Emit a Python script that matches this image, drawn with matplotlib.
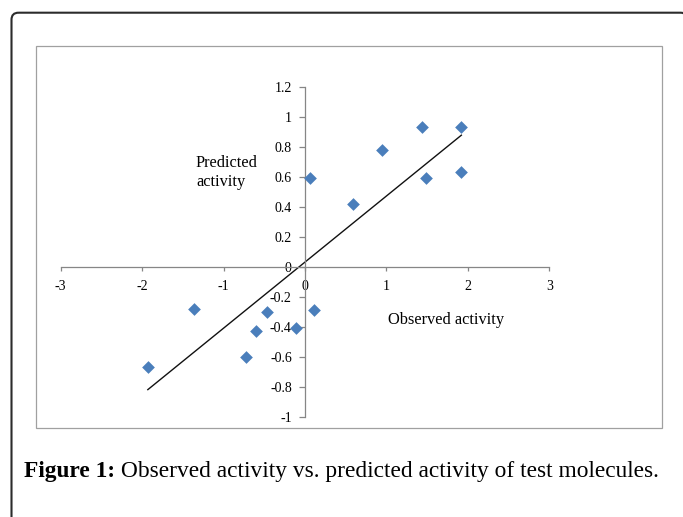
import matplotlib
matplotlib.use("Agg")
import matplotlib.pyplot as plt
from matplotlib.patches import FancyBboxPatch, Rectangle
import numpy as np

# observed vs predicted activity
observed = [0.06, 0.59, 0.95, 1.44, 1.49, 1.92, 1.92,
            -1.93, -1.36, -0.73, -0.60, -0.47, -0.11, 0.11]
predicted = [0.59, 0.42, 0.78, 0.93, 0.59, 0.93, 0.63,
             -0.67, -0.28, -0.60, -0.43, -0.30, -0.41, -0.29]
x_ticks = [-3, -2, -1, 0, 1, 2, 3]
y_ticks = [-1, -0.8, -0.6, -0.4, -0.2, 0, 0.2, 0.4, 0.6, 0.8, 1, 1.2]
y_labels = ['-1', '-0.8', '-0.6', '-0.4', '-0.2', '0', '0.2', '0.4', '0.6', '0.8', '1', '1.2']

plt.rcParams['font.family'] = ['Liberation Serif', 'DejaVu Serif']

W, H = 683, 517
fig = plt.figure(figsize=(W / 100, H / 100), dpi=100)

# background layer in pixel coordinates
bg = fig.add_axes([0, 0, 1, 1])
bg.set_xlim(0, W)
bg.set_ylim(H, 0)
bg.axis('off')
frame = FancyBboxPatch((11.5, 12.7), 676, 560, boxstyle="round,pad=0,rounding_size=7",
                       facecolor='none', edgecolor='#2b2b2b', linewidth=1.5)
bg.add_patch(frame)
bg.add_patch(Rectangle((36, 46), 626, 382, facecolor='none', edgecolor='#a0a0a0', linewidth=0.9))

t1 = bg.text(24, 477, "Figure 1:", fontsize=16.8, fontweight='bold', va='baseline', ha='left')
bg.annotate(" Observed activity vs. predicted activity of test molecules.",
            xy=(1, 0), xycoords=t1, va='bottom', ha='left', fontsize=16.8)

# chart
ax = fig.add_axes([60.7 / W, 1 - 416.7 / H, 488.6 / W, 329.7 / H])
ax.patch.set_alpha(0)
ax.scatter(observed, predicted, marker='D', s=42, color='#4a7ebb', zorder=3, linewidths=0)

k, b = np.polyfit(observed, predicted, 1)
xs = np.array([min(observed), max(observed)])
ax.plot(xs, k * xs + b, color='#111111', linewidth=1.0, zorder=2)

ax.set_xlim(-3, 3)
ax.set_ylim(-1, 1.2)
ax.spines['left'].set_position('zero')
ax.spines['bottom'].set_position('zero')
ax.spines['top'].set_visible(False)
ax.spines['right'].set_visible(False)
for s in ('left', 'bottom'):
    ax.spines[s].set_color('#868686')
    ax.spines[s].set_linewidth(0.9)

ax.set_xticks(x_ticks)
ax.set_xticklabels([str(v) for v in x_ticks])
ax.set_yticks(y_ticks)
ax.set_yticklabels(y_labels)
ax.tick_params(axis='x', direction='out', length=3, width=0.9, color='#868686', pad=6.5, labelsize=10)
ax.tick_params(axis='y', direction='out', length=4, width=0.9, color='#868686', pad=5.5, labelsize=10)

bg.text(195, 167, "Predicted", fontsize=11.8, ha='left', va='baseline')
bg.text(196, 186, "activity", fontsize=11.8, ha='left', va='baseline')
bg.text(388, 320, "Observed activity", fontsize=11.8, ha='left', va='center')

fig.savefig("out.png", dpi=100)
